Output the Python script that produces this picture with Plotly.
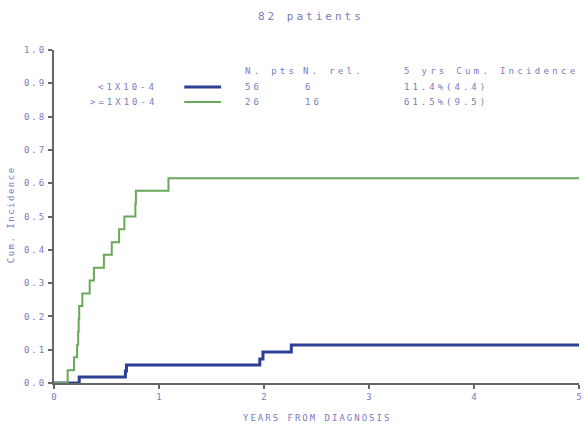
import plotly.graph_objects as go

# ---- data ----
groups = ["<1X10-4", ">=1X10-4"]
n_pts = ["56", "26"]
n_rel = ["6", "16"]
cum_inc_5y = ["11.4%(4.4)", "61.5%(9.5)"]

times_low = [0, 0.24, 0.68, 0.69, 1.96, 1.99, 2.26, 5]
cum_low = [0, 0.018, 0.036, 0.054, 0.072, 0.093, 0.114, 0.114]

times_high = [0, 0.13, 0.19, 0.22, 0.23, 0.235, 0.24, 0.27, 0.34, 0.38, 0.475,
              0.55, 0.62, 0.67, 0.775, 0.78, 1.09, 5]
cum_high = [0, 0.038, 0.077, 0.115, 0.154, 0.192, 0.231, 0.269, 0.308, 0.346,
            0.385, 0.423, 0.462, 0.5, 0.538, 0.577, 0.615, 0.615]

x_ticks = [0, 1, 2, 3, 4, 5]
y_ticks = [0.0, 0.1, 0.2, 0.3, 0.4, 0.5, 0.6, 0.7, 0.8, 0.9, 1.0]

# ---- style ----
BLUE = "#2e3f96"
GREEN = "#68a85a"
TXT = "#7a7abf"
AX = "#666666"
FONT = "DejaVu Sans Mono"

def sp(t, ls=3):
    return f'<span style="letter-spacing:{ls}px">{t}</span>'

fig = go.Figure()
fig.add_trace(go.Scatter(x=times_low, y=cum_low, mode="lines", line_shape="hv",
                         line=dict(color=BLUE, width=3), showlegend=False))
fig.add_trace(go.Scatter(x=times_high, y=cum_high, mode="lines", line_shape="hv",
                         line=dict(color=GREEN, width=2), showlegend=False))

W, H = 587, 427
L, R, T, B = 54, 5, 50, 44
pw, ph = W - L - R, H - T - B

def px(x):
    return (x - L) / pw

def py(y):
    return (H - B - y) / ph

ann = []
ann.append(dict(text=sp("82 patients", 3), x=px(312), y=py(17), xref="paper", yref="paper",
                showarrow=False, font=dict(family=FONT, size=11, color=TXT),
                xanchor="center", yanchor="middle"))
hdr_y = py(71)
for txt, xx in [("N. pts", 244), ("N. rel.", 302), ("5 yrs Cum. Incidence", 404)]:
    ann.append(dict(text=sp(txt, 3.3), x=px(xx), y=hdr_y, xref="paper", yref="paper",
                    showarrow=False, font=dict(family=FONT, size=9, color=TXT),
                    xanchor="left", yanchor="middle"))
row_y = [87, 102]
colors = [BLUE, GREEN]
widths = [3, 2]
shapes = []
for i in range(2):
    yy = py(row_y[i])
    ann.append(dict(text=sp(groups[i]), x=px(160), y=yy, xref="paper", yref="paper",
                    showarrow=False, font=dict(family=FONT, size=9, color=TXT),
                    xanchor="right", yanchor="middle"))
    ann.append(dict(text=sp(n_pts[i]), x=px(244), y=yy, xref="paper", yref="paper",
                    showarrow=False, font=dict(family=FONT, size=9, color=TXT),
                    xanchor="left", yanchor="middle"))
    ann.append(dict(text=sp(n_rel[i]), x=px(304), y=yy, xref="paper", yref="paper",
                    showarrow=False, font=dict(family=FONT, size=9, color=TXT),
                    xanchor="left", yanchor="middle"))
    ann.append(dict(text=sp(cum_inc_5y[i]), x=px(404), y=yy, xref="paper", yref="paper",
                    showarrow=False, font=dict(family=FONT, size=9, color=TXT),
                    xanchor="left", yanchor="middle"))
    shapes.append(dict(type="line", xref="paper", yref="paper", x0=px(185), x1=px(222),
                       y0=yy, y1=yy, line=dict(color=colors[i], width=widths[i])))

ann.append(dict(text=sp("YEARS FROM DIAGNOSIS", 2), x=px(319), y=py(418), xref="paper", yref="paper",
                showarrow=False, font=dict(family=FONT, size=9, color=TXT),
                xanchor="center", yanchor="middle"))
ann.append(dict(text=sp("Cum. Incidence", 1.5), x=px(11), y=py(215), xref="paper", yref="paper",
                showarrow=False, font=dict(family=FONT, size=9, color=TXT),
                xanchor="center", yanchor="middle", textangle=-90))

fig.update_layout(
    width=W, height=H,
    margin=dict(l=L, r=R, t=T, b=B),
    paper_bgcolor="white", plot_bgcolor="white",
    annotations=ann, shapes=shapes,
    font=dict(family=FONT, size=9, color=TXT),
)
fig.update_xaxes(range=[0, 5], tickvals=x_ticks, ticktext=[sp(str(v), 0) for v in x_ticks],
                 showgrid=False, zeroline=False, showline=True, linecolor=AX, linewidth=2,
                 ticks="outside", ticklen=4, tickcolor=AX, tickwidth=2,
                 tickfont=dict(family=FONT, size=9, color=TXT))
fig.update_yaxes(range=[0, 1], tickvals=y_ticks, ticktext=[sp(f"{v:.1f}", 2) for v in y_ticks],
                 showgrid=False, zeroline=False, showline=True, linecolor=AX, linewidth=2,
                 ticks="outside", ticklen=4, tickcolor=AX, tickwidth=2,
                 tickfont=dict(family=FONT, size=9, color=TXT))

fig.write_html("out.html")
